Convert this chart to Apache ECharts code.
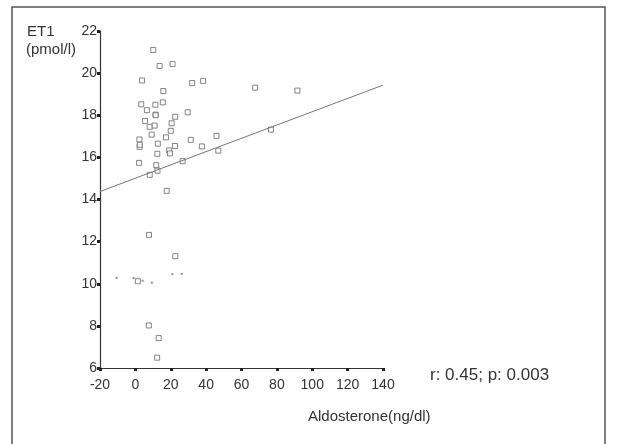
<!DOCTYPE html>
<html>
<head>
<meta charset="utf-8">
<title>ET1 vs Aldosterone</title>
<script src="https://cdn.jsdelivr.net/npm/echarts@6/dist/echarts.min.js"></script>
<style>
  html, body { margin: 0; padding: 0; background: #fff; }
  #chart { width: 617px; height: 444px; }
</style>
</head>
<body>
<div id="chart"></div>
<script>
// aldosterone (ng/dl) and ET1 (pmol/l)
const aldoX = [10.1, 13.7, 21.0, 3.8, 32.1, 38.3, 15.8, 3.3, 6.5, 11.3, 15.5, 29.6, 11.4, 22.5,
  5.5, 8.1, 10.9, 20.5, 9.2, 20.0, 17.3, 2.3, 2.4, 12.7, 22.4, 31.3, 45.9, 37.6, 19.1, 19.6,
  46.9, 12.4, 2.1, 11.8, 26.7, 12.5, 8.1, 17.7, 67.7, 91.6, 76.7, 7.7, 22.6, 1.4, 7.6, 13.2, 12.3,
  11.5, 2.5]
const et1Y = [21.1, 20.34, 20.43, 19.65, 19.53, 19.63, 19.15, 18.52, 18.24, 18.5, 18.61, 18.14, 18.03, 17.93,
  17.73, 17.45, 17.51, 17.62, 17.08, 17.26, 16.95, 16.85, 16.5, 16.65, 16.54, 16.83, 17.02, 16.52, 16.33, 16.19,
  16.32, 16.17, 15.74, 15.63, 15.82, 15.37, 15.17, 14.41, 19.31, 19.17, 17.32, 12.32, 11.31, 10.12, 8.02, 7.42, 6.49,
  18.0, 16.6]

// faint specks near ET1 = 10
const speckX = [-10.6, -1.0, 4.1, 9.3, 20.9, 26.2]
const speckY = [10.28, 10.27, 10.14, 10.05, 10.45, 10.47]

// regression line end points
const fitX = [-20, 140]
const fitY = [14.38, 19.43]

const xTicks = [-20, 0, 20, 40, 60, 80, 100, 120, 140]
const yTicks = [6, 8, 10, 12, 14, 16, 18, 20, 22]

const chart = echarts.init(document.getElementById('chart'))

const font = 'Liberation Sans, Arial, sans-serif'

chart.setOption({
  backgroundColor: '#fff',
  animation: false,
  grid: {
    left: 100,
    top: 31,
    right: 234,
    bottom: 76
  },
  xAxis: {
    type: 'value',
    min: xTicks[0],
    max: xTicks[xTicks.length - 1],
    interval: 20,
    axisLine: { show: true, onZero: false, lineStyle: { color: '#333', width: 1.2 } },
    axisTick: { show: true, length: 3, lineStyle: { color: '#222', width: 3 } },
    axisLabel: { color: '#333', fontSize: 14, fontFamily: font, margin: 10 },
    splitLine: { show: false }
  },
  yAxis: {
    type: 'value',
    min: yTicks[0],
    max: yTicks[yTicks.length - 1],
    interval: 2,
    axisLine: { show: true, onZero: false, lineStyle: { color: '#333', width: 1.2 } },
    axisTick: { show: true, length: 3, lineStyle: { color: '#222', width: 3 } },
    axisLabel: { color: '#333', fontSize: 14, fontFamily: font, margin: 3 },
    splitLine: { show: false }
  },
  series: [
    {
      type: 'scatter',
      symbol: 'rect',
      symbolSize: 5,
      itemStyle: { color: '#fff', borderColor: '#666', borderWidth: 1 },
      data: aldoX.map((x, i) => [x, et1Y[i]])
    },
    {
      type: 'scatter',
      symbol: 'rect',
      symbolSize: 2,
      itemStyle: { color: '#777' },
      data: speckX.map((x, i) => [x, speckY[i]])
    },
    {
      type: 'line',
      symbol: 'none',
      lineStyle: { color: '#777', width: 1 },
      data: fitX.map((x, i) => [x, fitY[i]])
    }
  ],
  graphic: [
    {
      type: 'rect',
      shape: { x: 12, y: 7, width: 593, height: 450 },
      style: { fill: 'none', stroke: '#555', lineWidth: 1.5 }
    },
    {
      type: 'text',
      left: 27,
      top: 24,
      style: { text: 'ET1', fill: '#333', font: '15px ' + font }
    },
    {
      type: 'text',
      left: 26,
      top: 42,
      style: { text: '(pmol/l)', fill: '#333', font: '15px ' + font }
    },
    {
      type: 'text',
      left: 430,
      top: 367,
      style: { text: 'r: 0.45; p: 0.003', fill: '#333', font: '17px ' + font }
    },
    {
      type: 'text',
      left: 308,
      top: 409,
      style: { text: 'Aldosterone(ng/dl)', fill: '#333', font: '15px ' + font }
    }
  ]
})
</script>
</body>
</html>
